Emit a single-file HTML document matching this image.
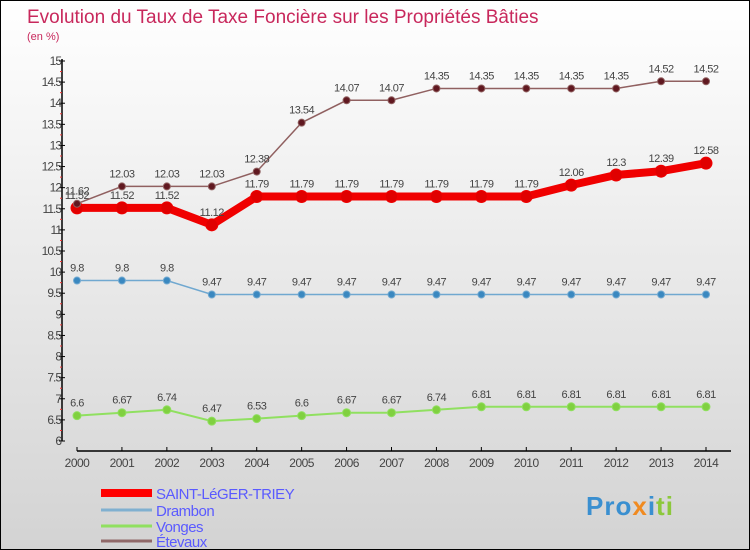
<!DOCTYPE html>
<html><head><meta charset="utf-8"><style>
body{margin:0}
#c{width:750px;height:550px;position:relative;background:linear-gradient(#fff,#d3d3d3);border:1px solid #000;box-sizing:border-box;overflow:hidden;font-family:"Liberation Sans",sans-serif}
svg{position:absolute;left:0;top:0}
</style></head><body>
<div id="c">
<svg id="s" width="750" height="550">
<text x="26" y="22" font-size="19" fill="#c8285c">Evolution du Taux de Taxe Foncière sur les Propriétés Bâties</text>
<text x="26" y="39" font-size="11" fill="#c8285c">(en %)</text>
</svg>
<div style="position:absolute;left:585px;top:490px;font-size:26px;font-weight:bold;letter-spacing:1px"><span style="color:#3a8fd0">Pro</span><span style="color:#f08a20">x</span><span style="color:#3a8fd0">i</span><span style="color:#8cc83c">ti</span></div>
</div>
<script>
const years=[2000,2001,2002,2003,2004,2005,2006,2007,2008,2009,2010,2011,2012,2013,2014];
const saint=[11.52,11.52,11.52,11.12,11.79,11.79,11.79,11.79,11.79,11.79,11.79,12.06,12.3,12.39,12.58];
const drambon=[9.8,9.8,9.8,9.47,9.47,9.47,9.47,9.47,9.47,9.47,9.47,9.47,9.47,9.47,9.47];
const vonges=[6.6,6.67,6.74,6.47,6.53,6.6,6.67,6.67,6.74,6.81,6.81,6.81,6.81,6.81,6.81];
const etevaux=[11.62,12.03,12.03,12.03,12.38,13.54,14.07,14.07,14.35,14.35,14.35,14.35,14.35,14.52,14.52];
const yTicks=[6,6.5,7,7.5,8,8.5,9,9.5,10,10.5,11,11.5,12,12.5,13,13.5,14,14.5,15];
const NS='http://www.w3.org/2000/svg';
const s=document.getElementById('s');
const X=i=>76+i*(705-76)/(years.length-1);
const Y=v=>440-(v-6)*(380/9);
function mk(t,a,p){const e=document.createElementNS(NS,t);for(const k in a)e.setAttribute(k,a[k]);(p||s).appendChild(e);return e;}
const ax=mk('g',{});


mk('line',{x1:61,y1:58,x2:61,y2:440,stroke:'#000','stroke-width':1.5},ax);
mk('line',{x1:76,y1:450,x2:730,y2:450,stroke:'#000','stroke-width':1.5},ax);
yTicks.forEach((v,k)=>{
 mk('line',{x1:58,y1:Y(v),x2:64,y2:Y(v),stroke:'#000'},ax);
 if(k<yTicks.length-1) mk('line',{x1:59,y1:Y(v+0.25),x2:61,y2:Y(v+0.25),stroke:'#e33'},ax);
 const t=mk('text',{x:60,y:Y(v)+4,'font-size':12,fill:'#444','text-anchor':'end','letter-spacing':'-1'},ax);
 t.textContent=String(v);
 
 
});
years.forEach((y,i)=>{
 mk('line',{x1:X(i),y1:446,x2:X(i),y2:450,stroke:'#000'},ax);
 const t=mk('text',{x:X(i),y:466,'font-size':12,fill:'#444','text-anchor':'middle','letter-spacing':'-0.5'},ax);
 t.textContent=String(y);
 
 
});
function series(data,name,color,w,r,dot){
 const g=mk('g',{});
 
 
 mk('polyline',{points:data.map((v,i)=>X(i)+','+Y(v)).join(' '),fill:'none',stroke:color,'stroke-width':w},g);
 data.forEach((v,i)=>{
  const c=mk('circle',{cx:X(i),cy:Y(v),r:r,fill:dot,stroke:color},g);
  
  
  const t=mk('text',{x:X(i),y:Y(v)-9,'font-size':11,fill:'#444','text-anchor':'middle','letter-spacing':'-0.5'},g);
  t.textContent=String(v);
  
  
 });
}
series(vonges,'vonges','#90e060',2,4,'#80d040');
series(drambon,'drambon','#70a8d0',1.5,3.5,'#3a88c0');
series(saint,'saint-leger-triey','#f00000',8,6,'#e00000');
series(etevaux,'etevaux','#906060',1.5,3.5,'#601820');
const lg=[['SAINT-LéGER-TRIEY','#f00',8],['Drambon','#80b0d0',3],['Vonges','#90e060',3],['Étevaux','#906868',3]];
const ly=[493,510,526,541];
lg.forEach((l,i)=>{
 const g=mk('g',{});
 
 
 mk('line',{x1:100,y1:ly[i]-1,x2:151,y2:ly[i]-1,stroke:l[1],'stroke-width':l[2]},g);
 const t=mk('text',{x:155,y:ly[i]+5,'font-size':15,fill:'#5a5aff','letter-spacing':'-0.5'},g);
 t.textContent=l[0];
});
</script>
</body></html>
